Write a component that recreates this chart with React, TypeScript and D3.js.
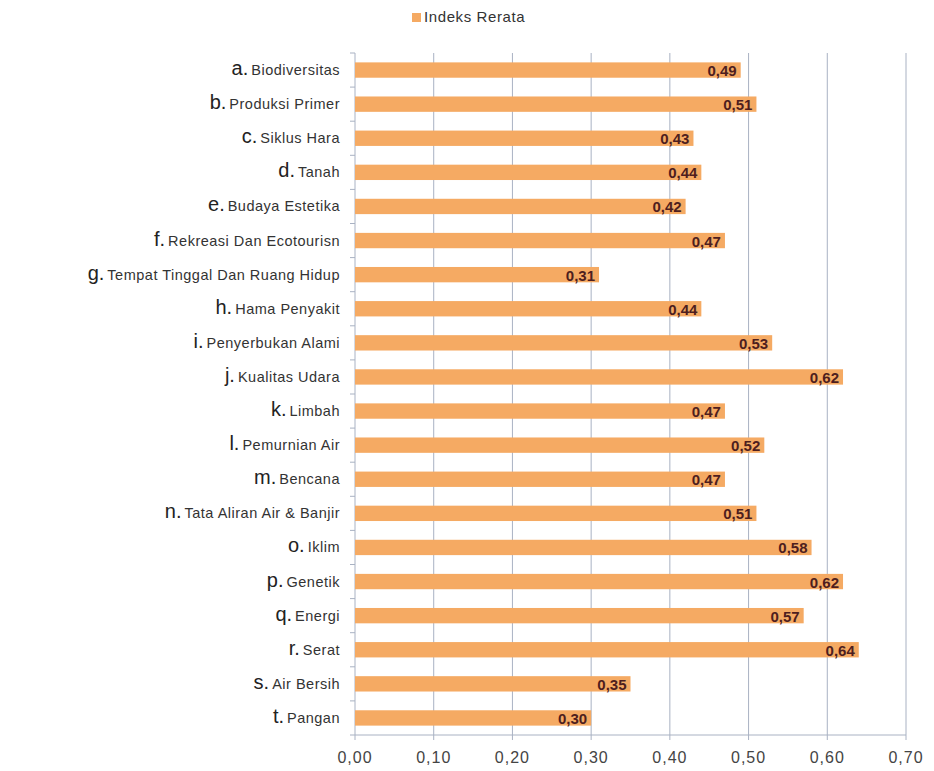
import React from "react";
import * as d3 from "d3";

const letters = ["a.", "b.", "c.", "d.", "e.", "f.", "g.", "h.", "i.", "j.", "k.", "l.", "m.", "n.", "o.", "p.", "q.", "r.", "s.", "t."];
const names = [
  "Biodiversitas",
  "Produksi Primer",
  "Siklus Hara",
  "Tanah",
  "Budaya Estetika",
  "Rekreasi Dan Ecotourisn",
  "Tempat Tinggal Dan Ruang Hidup",
  "Hama Penyakit",
  "Penyerbukan Alami",
  "Kualitas Udara",
  "Limbah",
  "Pemurnian Air",
  "Bencana",
  "Tata Aliran Air & Banjir",
  "Iklim",
  "Genetik",
  "Energi",
  "Serat",
  "Air Bersih",
  "Pangan",
];
const values = [0.49, 0.51, 0.43, 0.44, 0.42, 0.47, 0.31, 0.44, 0.53, 0.62, 0.47, 0.52, 0.47, 0.51, 0.58, 0.62, 0.57, 0.64, 0.35, 0.30];
const xTicks = [0, 0.1, 0.2, 0.3, 0.4, 0.5, 0.6, 0.7];
const seriesName = "Indeks Rerata";

const W = 934;
const H = 771;
const margin = { left: 355, right: 28, top: 53, bottom: 36 };
const barColor = "#F5AA63";
const gridColor = "#A9B2C3";
const font = "Arial, 'Liberation Sans', sans-serif";

const fmt = (v: number) => d3.format(".2f")(v).replace(".", ",");

export default function App() {
  const x = d3.scaleLinear().domain([0, 0.7]).range([margin.left, W - margin.right]);
  const ids = names.map((_, i) => String(i));
  const y = d3.scaleBand().domain(ids).range([margin.top, H - margin.bottom]).paddingInner(0.55).paddingOuter(0.275);
  const bandStep = y.step();
  const y0 = margin.top;
  const y1 = H - margin.bottom;

  return (
    <svg width={W} height={H} style={{ position: "absolute", left: 0, top: 0, background: "#fff" }} fontFamily={font}>
      {/* legend */}
      <rect x={412} y={13} width={9} height={9} fill={barColor} />
      <text x={424} y={22} fontSize={15} fill="#333" letterSpacing={0.6}>{seriesName}</text>

      {/* grid */}
      {xTicks.slice(1).map((t) => (
        <line key={"g" + t} x1={x(t)} x2={x(t)} y1={y0} y2={y1} stroke={gridColor} strokeWidth={1} />
      ))}
      {/* axes */}
      <line x1={x(0)} x2={x(0)} y1={y0} y2={y1} stroke={gridColor} />
      <line x1={x(0)} x2={x(0.7)} y1={y1} y2={y1} stroke={gridColor} />
      {xTicks.map((t) => (
        <line key={"xt" + t} x1={x(t)} x2={x(t)} y1={y1} y2={y1 + 5} stroke={gridColor} />
      ))}
      {d3.range(names.length + 1).map((i) => (
        <line key={"yt" + i} x1={x(0) - 5} x2={x(0)} y1={y0 + i * bandStep} y2={y0 + i * bandStep} stroke={gridColor} />
      ))}
      {xTicks.map((t) => (
        <text key={"xl" + t} x={x(t)} y={y1 + 28} fontSize={16} fill="#444" textAnchor="middle" letterSpacing={1}>{fmt(t)}</text>
      ))}

      {/* bars */}
      {values.map((v, i) => {
        const yy = y(String(i))!;
        const bh = y.bandwidth();
        return (
          <g key={"b" + i}>
            <rect x={x(0)} y={yy} width={x(v) - x(0)} height={bh} fill={barColor} />
            <text x={x(v) - 4} y={yy + bh / 2 + 6} fontSize={15} fontWeight="bold" fill="#4E1E1E" textAnchor="end">{fmt(v)}</text>
          </g>
        );
      })}

      {/* category labels */}
      {names.map((n, i) => {
        const yy = y(String(i))! + y.bandwidth() / 2;
        return (
          <text key={"c" + i} x={340} y={yy + 5} textAnchor="end" fill="#333">
            <tspan fontSize={20} fill="#222">{letters[i]}</tspan>
            <tspan fontSize={14.5} dx={3} letterSpacing={0.5}>{n}</tspan>
          </text>
        );
      })}
    </svg>
  );
}
